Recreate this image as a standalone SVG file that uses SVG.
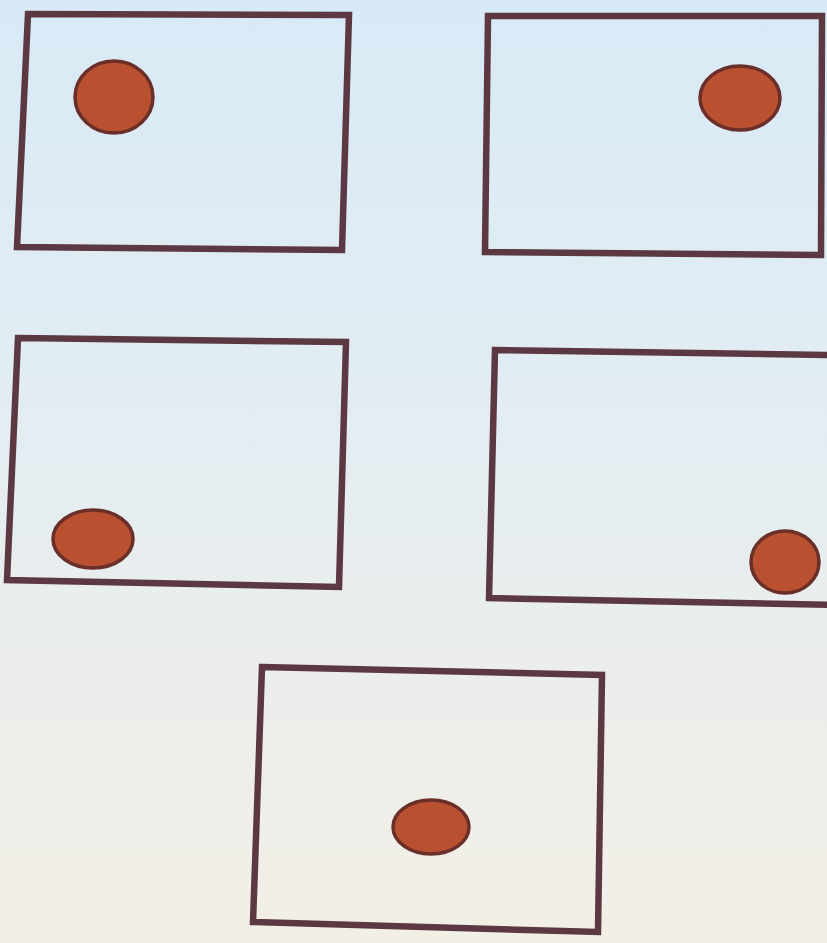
<svg xmlns="http://www.w3.org/2000/svg" width="827" height="943" viewBox="0 0 827 943">
  <defs>
    <linearGradient id="bg" x1="0" y1="0" x2="0" y2="1">
      <stop offset="0" stop-color="#d8eaf6"/>
      <stop offset="0.45" stop-color="#e3edf2"/>
      <stop offset="0.8" stop-color="#eeeeea"/>
      <stop offset="1" stop-color="#f2efe6"/>
    </linearGradient>
  </defs>
  <style>
    .frame { fill: none; stroke: #5c3842; stroke-width: 6.5; stroke-linejoin: miter; }
    .dot { fill: #b9502f; stroke: #6b2f2a; stroke-width: 3.5; }
  </style>
  <rect x="0" y="0" width="827" height="943" fill="url(#bg)"/>
  <g id="box1">
    <polygon class="frame" points="28,14 349,15 342,250 17,247"/>
    <ellipse class="dot" cx="114" cy="97" rx="39" ry="36"/>
  </g>
  <g id="box2">
    <polygon class="frame" points="488,16 822,16 821,255 485,252"/>
    <ellipse class="dot" cx="740" cy="98" rx="40" ry="32"/>
  </g>
  <g id="box3">
    <polygon class="frame" points="18,338 346,342 339,587 7,580"/>
    <ellipse class="dot" cx="93" cy="539" rx="40" ry="29"/>
  </g>
  <g id="box4">
    <polygon class="frame" points="495,350 835,355 835,605 489,598"/>
    <ellipse class="dot" cx="785" cy="562" rx="34" ry="31"/>
  </g>
  <g id="box5">
    <polygon class="frame" points="262,667 602,675 598,932 253,922"/>
    <ellipse class="dot" cx="431" cy="827" rx="38" ry="27"/>
  </g>
</svg>
